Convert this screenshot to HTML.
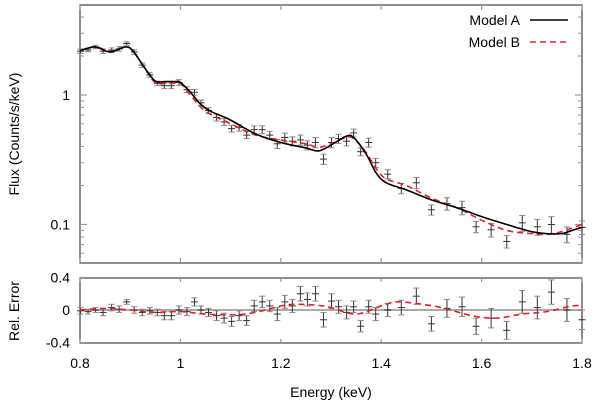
<!DOCTYPE html>
<html><head><meta charset="utf-8"><style>
body{margin:0;background:#fff}
svg{display:block;font-family:"Liberation Sans",sans-serif}
</style></head><body>
<svg id="c" width="600" height="403" viewBox="0 0 600 403"></svg>
<script>
const energies=[0.801,0.816,0.831,0.846,0.863,0.878,0.893,0.908,0.924,0.939,0.954,0.968,0.982,0.997,1.013,1.028,1.041,1.056,1.072,1.087,1.102,1.117,1.132,1.147,1.163,1.178,1.193,1.208,1.223,1.239,1.253,1.269,1.285,1.301,1.315,1.331,1.345,1.359,1.375,1.389,1.413,1.440,1.470,1.500,1.531,1.561,1.589,1.619,1.650,1.681,1.711,1.739,1.770,1.800];
const fluxes=[2.18,2.23,2.35,2.18,2.22,2.27,2.5,2.15,1.70,1.43,1.23,1.18,1.18,1.25,1.10,1.05,0.87,0.76,0.67,0.62,0.55,0.56,0.49,0.54,0.54,0.49,0.42,0.47,0.44,0.45,0.41,0.43,0.32,0.43,0.46,0.44,0.51,0.365,0.43,0.30,0.245,0.19,0.21,0.13,0.145,0.135,0.096,0.091,0.074,0.103,0.096,0.1,0.084,0.095];
const residuals=[-0.01,-0.02,0,-0.03,0.03,0.01,0.1,0,-0.03,-0.01,-0.03,-0.07,-0.07,0,-0.02,0.1,0,-0.03,-0.07,-0.1,-0.14,-0.07,-0.13,0.05,0.1,0.05,-0.05,0.1,0.05,0.2,0.13,0.2,-0.12,0.11,0.04,-0.03,0.04,-0.2,0.04,-0.05,0,0.03,0.17,-0.17,0.02,0.04,-0.2,-0.1,-0.25,0.1,0.03,0.22,0,-0.12];
const relErrors=[0.04,0.03,0.03,0.04,0.04,0.04,0.03,0.04,0.04,0.04,0.04,0.05,0.05,0.05,0.05,0.05,0.05,0.05,0.06,0.06,0.06,0.06,0.06,0.07,0.07,0.07,0.08,0.08,0.08,0.09,0.08,0.09,0.09,0.09,0.08,0.08,0.07,0.07,0.08,0.08,0.08,0.09,0.1,0.09,0.11,0.12,0.1,0.12,0.11,0.14,0.14,0.15,0.14,0.12];
const modelE=[0.80,0.83,0.86,0.89,0.905,0.93,0.95,0.97,0.99,1.0,1.02,1.04,1.06,1.10,1.15,1.2,1.25,1.275,1.30,1.33,1.345,1.37,1.39,1.41,1.45,1.50,1.55,1.60,1.65,1.70,1.73,1.76,1.78,1.80];
const modelA=[2.2,2.35,2.15,2.35,2.2,1.6,1.28,1.27,1.27,1.25,1.05,0.85,0.75,0.64,0.5,0.43,0.39,0.37,0.41,0.48,0.47,0.35,0.25,0.21,0.185,0.155,0.135,0.115,0.1,0.088,0.085,0.085,0.09,0.095];
const modelB=[2.2,2.36,2.18,2.35,2.2,1.58,1.24,1.23,1.24,1.23,1.0,0.81,0.71,0.60,0.49,0.45,0.42,0.395,0.42,0.47,0.46,0.36,0.27,0.225,0.2,0.16,0.135,0.108,0.09,0.085,0.084,0.088,0.094,0.1];
const residE=[0.80,0.85,0.9,0.95,1.0,1.05,1.1,1.13,1.17,1.2,1.23,1.27,1.3,1.35,1.4,1.43,1.47,1.52,1.58,1.63,1.68,1.73,1.78,1.8];
const residB=[0,0.02,0,-0.03,-0.02,-0.05,-0.06,-0.05,0,0.05,0.07,0.06,0.03,-0.05,0.05,0.1,0.08,0.03,-0.07,-0.1,-0.05,-0.02,0.05,0.05];
const xTicks=[0.8,1,1.2,1.4,1.6,1.8];
const xTickLabels=["0.8","1","1.2","1.4","1.6","1.8"];
const yMajor=[0.1,1];const yMajorLabels=["0.1","1"];
const yMinor=[0.06,0.07,0.08,0.09,0.2,0.3,0.4,0.5,0.6,0.7,0.8,0.9,2,3,4];
const rTicks=[-0.4,0,0.4];const rTickLabels=["-0.4","0","0.4"];

const NS="http://www.w3.org/2000/svg",svg=document.getElementById('c');
const L=80,R=582,T=5,B=263,RT=278,RB=343;
const X=e=>L+(e-0.8)*(R-L);
const Y=f=>95-Math.log10(f)*129.5;
const RY=r=>310-r*(RB-RT)/0.8;
function mk(t,a,p){const e=document.createElementNS(NS,t);for(const k in a)e.setAttribute(k,a[k]);(p||svg).appendChild(e);return e;}

// frames
let f1=mk('rect',{x:L,y:T,width:R-L,height:B-T,fill:'none',stroke:'#444','stroke-width':1.2});


let f2=mk('rect',{x:L,y:RT,width:R-L,height:RB-RT,fill:'none',stroke:'#444','stroke-width':1.2});


let zl=mk('line',{x1:L,x2:R,y1:RY(0),y2:RY(0),stroke:'#aaa','stroke-width':2});



// x ticks
xTicks.forEach((v,i)=>{const x=X(v);
 [[T,T+5],[B,B-5],[RT,RT+4],[RB,RB-4]].forEach(p=>mk('line',{x1:x,x2:x,y1:p[0],y2:p[1],stroke:'#999','stroke-width':1.2}));
 const t=mk('text',{x:x,y:368,'font-size':14,'text-anchor':'middle',fill:'#000'});t.textContent=xTickLabels[i];
 
 
});
yMajor.forEach((v,i)=>{const y=Y(v);
 mk('line',{x1:L,x2:L+7,y1:y,y2:y,stroke:'#999','stroke-width':1.2});
 mk('line',{x1:R,x2:R-7,y1:y,y2:y,stroke:'#999','stroke-width':1.2});
 const t=mk('text',{x:L-10,y:y+5,'font-size':14,'text-anchor':'end',fill:'#000'});t.textContent=yMajorLabels[i];
 
 
});
yMinor.forEach(v=>{const y=Y(v);
 mk('line',{x1:L,x2:L+4,y1:y,y2:y,stroke:'#999','stroke-width':1});
 mk('line',{x1:R,x2:R-4,y1:y,y2:y,stroke:'#999','stroke-width':1});
});
rTicks.forEach((v,i)=>{const y=RY(v);
 mk('line',{x1:L,x2:L+5,y1:y,y2:y,stroke:'#999','stroke-width':1.2});
 mk('line',{x1:R,x2:R-5,y1:y,y2:y,stroke:'#999','stroke-width':1.2});
 const t=mk('text',{x:L-10,y:y+5,'font-size':14,'text-anchor':'end',fill:'#000'});t.textContent=rTickLabels[i];
 
 
});

// axis titles
let t1=mk('text',{x:0,y:0,'font-size':14,'text-anchor':'middle',transform:'translate(19,134) rotate(-90)'});t1.textContent='Flux (Counts/s/keV)';


let t2=mk('text',{x:0,y:0,'font-size':14,'text-anchor':'middle',transform:'translate(19,311) rotate(-90)'});t2.textContent='Rel. Error';


let t3=mk('text',{x:331,y:397,'font-size':14,'text-anchor':'middle'});t3.textContent='Energy (keV)';



// data points
energies.forEach((e,i)=>{const x=X(e),g=mk('g',{});
 
 
 const f=fluxes[i],er=relErrors[i];
 const y=Y(f),y1=Y(f*(1+er)),y2=Y(f*(1-er));
 mk('line',{x1:x,x2:x,y1:y1,y2:y2,stroke:'#333','stroke-width':1},g);
 mk('line',{x1:x-3,x2:x+3,y1:y1,y2:y1,stroke:'#888','stroke-width':1},g);
 mk('line',{x1:x-3,x2:x+3,y1:y2,y2:y2,stroke:'#888','stroke-width':1},g);
 mk('line',{x1:x-3.5,x2:x+3.5,y1:y,y2:y,stroke:'#333','stroke-width':1},g);
 const r=residuals[i],ry=RY(r),ra=RY(r+er),rb=RY(r-er);
 const g2=mk('g',{});
 
 
 mk('line',{x1:x,x2:x,y1:ra,y2:rb,stroke:'#333','stroke-width':1},g2);
 mk('line',{x1:x-3,x2:x+3,y1:ra,y2:ra,stroke:'#888','stroke-width':1},g2);
 mk('line',{x1:x-3,x2:x+3,y1:rb,y2:rb,stroke:'#888','stroke-width':1},g2);
 mk('line',{x1:x-3.5,x2:x+3.5,y1:ry,y2:ry,stroke:'#333','stroke-width':1},g2);
});

function smooth(pts){let d='M'+pts[0][0]+','+pts[0][1];
 for(let i=0;i<pts.length-1;i++){const p0=pts[Math.max(i-1,0)],p1=pts[i],p2=pts[i+1],p3=pts[Math.min(i+2,pts.length-1)];
  d+=' C'+(p1[0]+(p2[0]-p0[0])/6)+','+(p1[1]+(p2[1]-p0[1])/6)+' '+(p2[0]-(p3[0]-p1[0])/6)+','+(p2[1]-(p3[1]-p1[1])/6)+' '+p2[0]+','+p2[1];}
 return d;}
let pB=mk('path',{d:smooth(modelE.map((e,i)=>[X(e),Y(modelB[i])])),fill:'none',stroke:'#e0202a','stroke-width':1.6,'stroke-dasharray':'6,4'});


let pA=mk('path',{d:smooth(modelE.map((e,i)=>[X(e),Y(modelA[i])])),fill:'none',stroke:'#000','stroke-width':1.6});


let pR=mk('path',{d:smooth(residE.map((e,i)=>[X(e),RY(residB[i])])),fill:'none',stroke:'#e0202a','stroke-width':1.6,'stroke-dasharray':'6,4'});



// legend
let la=mk('text',{x:520,y:25,'font-size':14,'text-anchor':'end'});la.textContent='Model A';


mk('line',{x1:530,x2:568,y1:20,y2:20,stroke:'#000','stroke-width':1.6});
let lb=mk('text',{x:520,y:47,'font-size':14,'text-anchor':'end'});lb.textContent='Model B';


mk('line',{x1:530,x2:568,y1:42,y2:42,stroke:'#e0202a','stroke-width':1.6,'stroke-dasharray':'6,4'});
</script>
</body></html>
